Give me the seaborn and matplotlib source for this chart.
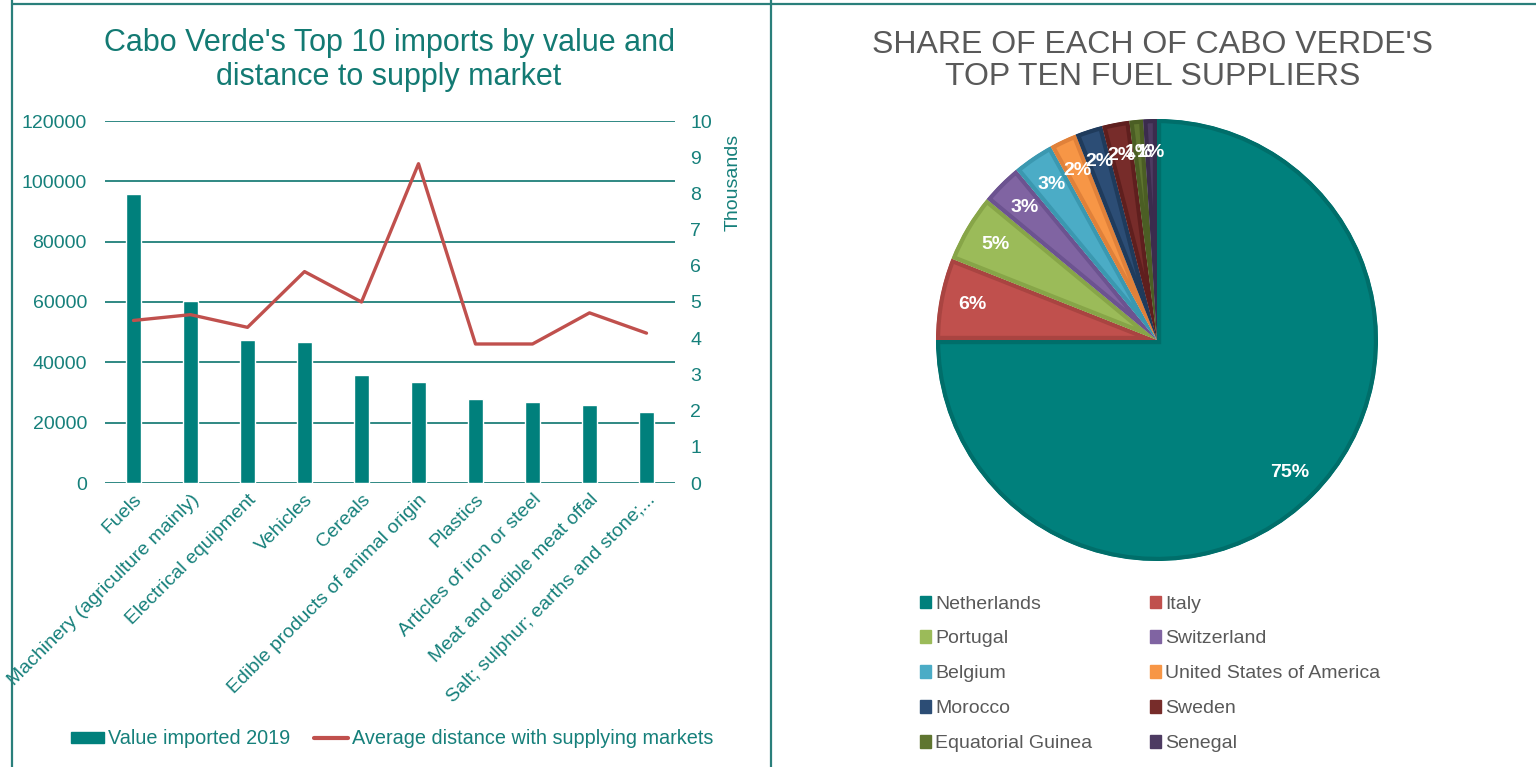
import numpy as np
import pandas as pd
import seaborn as sns
import matplotlib.pyplot as plt
from matplotlib.lines import Line2D
from matplotlib.patches import Patch

# left chart data
categories = ["Fuels", "Machinery (agriculture mainly)", "Electrical equipment", "Vehicles",
              "Cereals", "Edible products of animal origin", "Plastics", "Articles of iron or steel",
              "Meat and edible meat offal", "Salt; sulphur; earths and stone;..."]
value_imported = [95700, 60300, 47300, 46600, 35700, 33500, 28000, 26900, 25800, 23600]
avg_distance = [4490, 4650, 4300, 5840, 5000, 8820, 3840, 3840, 4700, 4140]

# right chart data
suppliers = ["Netherlands", "Italy", "Portugal", "Switzerland", "Belgium",
             "United States of America", "Morocco", "Sweden", "Equatorial Guinea", "Senegal"]
shares = [75, 6, 5, 3, 3, 2, 2, 2, 1, 1]
pie_colors = ["#00807c", "#c0504d", "#9bbb59", "#8064a2", "#4bacc6",
              "#f79646", "#2c4d75", "#772c2a", "#5f7530", "#4d3b62"]
pie_edges = ["#006e6a", "#a94441", "#87a548", "#6c5390", "#3b98b0",
             "#e0813a", "#1f3b5c", "#5f1f1e", "#4b5e24", "#3b2c4d"]

TEAL = "#00807c"
TEAL_TXT = "#16807b"
RED = "#c0504d"
GRAY = "#595959"

sns.set_theme(style="white")
plt.rcParams["font.family"] = ["Liberation Sans", "DejaVu Sans"]

fig = plt.figure(figsize=(15.36, 7.67), dpi=100)

# ---- left: bars + line ----
ax = fig.add_axes([105 / 1536, 1 - 483 / 767, 570 / 1536, 362 / 767])
df = pd.DataFrame({"category": categories, "value": value_imported,
                   "dist": np.array(avg_distance) / 1000})
sns.barplot(data=df, x="category", y="value", color=TEAL, saturation=1, width=0.28, ax=ax)
ax.set_ylim(0, 120000)
ax.set_yticks(np.arange(0, 120001, 20000))
ax.set_xlim(-0.5, len(categories) - 0.5)
ax.yaxis.grid(True, color="#1f7f7a", linewidth=1.3)
ax.set_axisbelow(True)
for s in ax.spines.values():
    s.set_visible(False)
ax.set_xlabel("")
ax.set_ylabel("")
ax.tick_params(axis="y", length=0, pad=13, labelsize=14, labelcolor=TEAL_TXT)
ax.tick_params(axis="x", length=0, pad=6, labelsize=14, labelcolor=TEAL_TXT)
plt.setp(ax.get_xticklabels(), rotation=45, ha="right", rotation_mode="anchor")

ax2 = ax.twinx()
sns.lineplot(x=np.arange(len(categories)), y=df["dist"], color=RED, linewidth=2.4, ax=ax2)
ax2.set_ylim(0, 10)
ax2.set_yticks(range(0, 11))
ax2.set_ylabel("")
for s in ax2.spines.values():
    s.set_visible(False)
ax2.grid(False)
ax2.tick_params(axis="y", length=0, pad=11, labelsize=14, labelcolor=TEAL_TXT)
fig.text(733 / 1536, 1 - 182 / 767, "Thousands", rotation=90, ha="center", va="center",
         fontsize=14, color=TEAL_TXT)

fig.text(389 / 1536, 1 - 60 / 767,
         "Cabo Verde's Top 10 imports by value and\ndistance to supply market",
         ha="center", va="center", fontsize=22, color="#137a73", linespacing=1.15)

handles = [Patch(color=TEAL), Line2D([], [], color=RED, linewidth=3)]
fig.legend(handles, ["Value imported 2019", "Average distance with supplying markets"],
           loc="center", bbox_to_anchor=(392 / 1536, 1 - 739 / 767), ncol=2, frameon=False,
           fontsize=14.3, labelcolor=TEAL_TXT, handlelength=1.7, handleheight=0.5,
           handletextpad=0.2, columnspacing=1.2)

# ---- right: pie ----
axp = fig.add_axes([936 / 1536, 1 - 561 / 767, 442 / 1536, 442 / 767])
wedges, _, autotexts = axp.pie(shares, colors=pie_colors, startangle=90, counterclock=False,
                               autopct="%d%%", pctdistance=0.85,
                               textprops=dict(color="white", fontsize=14, fontweight="bold"))
for w, ec in zip(wedges, pie_edges):
    w.set_edgecolor(ec)
    w.set_linewidth(6)
    w.set_clip_on(True)
    w.set_clip_path(w)
axp.set_xlim(-1, 1)
axp.set_ylim(-1, 1)

fig.text(1153 / 1536, 1 - 61 / 767, "SHARE OF EACH OF CABO VERDE'S\nTOP TEN FUEL SUPPLIERS",
         ha="center", va="center", fontsize=23, color=GRAY, linespacing=1.1)

# legend fills row by row, like the original
order = [0, 2, 4, 6, 8, 1, 3, 5, 7, 9]
pie_handles = [Patch(color=pie_colors[i]) for i in order]
fig.legend(pie_handles, [suppliers[i] for i in order], loc="upper left",
           bbox_to_anchor=(902 / 1536, 1 - 578 / 767),
           ncol=2, frameon=False, fontsize=14, labelcolor=GRAY, handlelength=0.6,
           handleheight=0.6, handletextpad=0.2, columnspacing=2.95, labelspacing=0.92)

# panel borders
for xs, ys in [([12, 12], [0, 767]), ([771, 771], [0, 767]), ([12, 1536], [4, 4])]:
    fig.add_artist(Line2D(np.array(xs) / 1536, 1 - np.array(ys) / 767, color="#2a7f7b",
                          linewidth=1.6, transform=fig.transFigure))

fig.savefig("out.png", dpi=100)
